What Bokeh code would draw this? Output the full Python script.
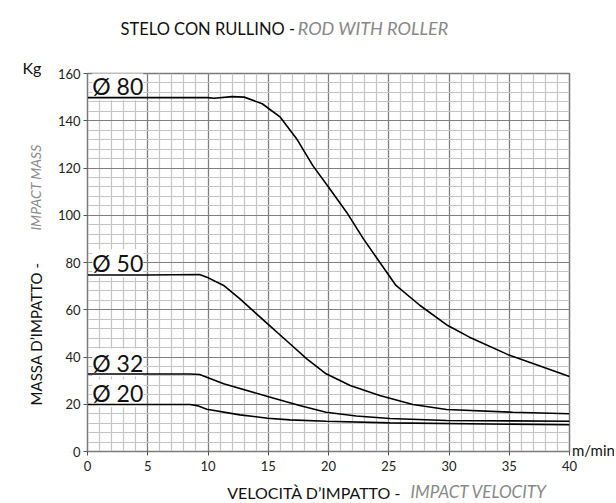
from bokeh.plotting import figure
from bokeh.models import Range1d, SingleIntervalTicker, Label
from bokeh.embed import file_html
from bokeh.resources import INLINE
import math

# ---- data ----
x80 = [0, 5, 10, 10.5, 12, 13, 14.5, 16, 17.35, 18.7, 20.1, 21.5, 22.9, 24.25, 25.6, 27.6, 29.9, 31.7, 34.9, 37.2, 40]
y80 = [149.8, 149.8, 149.8, 149.5, 150.2, 150.0, 147.2, 141.5, 132.4, 121, 111.2, 101.3, 90, 80.1, 70.3, 61.8, 53.3, 48.4, 41, 36.8, 31.7]

x50 = [0, 5, 9.3, 9.9, 11.3, 12.65, 14.95, 16.8, 18.2, 19.8, 21.8, 24.25, 27, 29.8, 35.3, 40]
y50 = [74.7, 74.7, 74.9, 73.8, 70.3, 64.6, 54, 45.6, 39.2, 32.9, 27.9, 23.7, 19.9, 17.8, 16.6, 16]

x32 = [0, 8.5, 9.3, 11.3, 14.95, 17.6, 19.8, 22.3, 25.1, 29.8, 40]
y32 = [32.8, 32.8, 32.6, 28.7, 23.3, 19.5, 16.6, 15, 14, 13.1, 12.8]

x20 = [0, 8.5, 9.2, 9.9, 12.65, 14.95, 16.8, 19.8, 25.1, 40]
y20 = [19.9, 19.9, 19.3, 17.9, 15.5, 14.1, 13.4, 12.8, 12.1, 11.3]

series_x = [x80, x50, x32, x20]
series_y = [y80, y50, y32, y20]
series_names = ["Ø 80", "Ø 50", "Ø 32", "Ø 20"]
label_levels = [150, 75, 33, 20]

FONT = "Lato"

p = figure(width=614, height=501, output_backend="svg", toolbar_location=None,
           x_range=Range1d(0, 40), y_range=Range1d(0, 160),
           min_border_left=87, min_border_right=45, min_border_top=73, min_border_bottom=50)
p.background_fill_color = "white"
p.border_fill_color = "white"
p.outline_line_color = "#7a7a7a"
p.outline_line_width = 1.5

xt = SingleIntervalTicker(interval=5, num_minor_ticks=5)
yt = SingleIntervalTicker(interval=20, num_minor_ticks=5)
p.xaxis.ticker = xt
p.yaxis.ticker = yt
p.xgrid.ticker = xt
p.ygrid.ticker = yt
for g in (p.xgrid, p.ygrid):
    g.grid_line_color = "#7f7f7f"
    g.grid_line_width = 1.2
    g.minor_grid_line_color = "#c4c4c4"
    g.minor_grid_line_width = 1.2

for ax in (p.xaxis, p.yaxis):
    ax.axis_line_color = "#7a7a7a"
    ax.major_tick_line_color = "#555555"
    ax.major_tick_out = 4
    ax.major_tick_in = 0
    ax.minor_tick_out = 0
    ax.minor_tick_in = 0
    ax.major_label_text_font = FONT
    ax.major_label_text_font_size = "13px"
    ax.major_label_text_color = "#222222"
p.xaxis.major_label_standoff = 5
p.yaxis.major_label_standoff = 3

for xs, ys in zip(series_x, series_y):
    p.line(xs, ys, line_color="black", line_width=1.6)

# series labels: drawn above the grid but below the curves
for name, lvl in zip(series_names, label_levels):
    p.add_layout(Label(x=0.4, y=lvl, y_offset=-3, text=name, text_font=FONT,
                       text_font_size="23px", text_color="#111111",
                       text_baseline="bottom", level="underlay",
                       background_fill_color="white", padding=0))

# texts outside the frame: placed in side panels (not clipped), positioned in data units
outside = [
    ("above", dict(x=2.74, y=174.8, text="STELO CON RULLINO -", text_font_size="16.5px", text_color="#111111")),
    ("above", dict(x=17.45, y=174.8, text="ROD WITH ROLLER", text_font_size="18px", text_color="#888888", text_font_style="italic")),
    ("above", dict(x=26.8, y=-21.5, text="IMPACT VELOCITY", text_font_size="17px", text_color="#888888", text_font_style="italic")),
    ("below", dict(x=11.6, y=-21.5, text="VELOCITÀ D’IMPATTO -", text_font_size="16px", text_color="#111111")),
    ("left", dict(x=-4.3, y=19.5, text="MASSA D’IMPATTO -", angle=math.pi / 2, text_font_size="15px", text_color="#111111", text_baseline="middle")),
    ("left", dict(x=-4.3, y=93.5, text="IMPACT MASS", angle=math.pi / 2, text_font_size="14px", text_color="#888888", text_font_style="italic", text_baseline="middle")),
    ("left", dict(x=-5.4, y=158.5, text="Kg", text_font_size="16px", text_color="#111111")),
    ("right", dict(x=40.2, y=-3.1, text="m/min", text_font_size="15px", text_color="#111111")),
]
for side, kw in outside:
    p.add_layout(Label(text_font=FONT, **kw), side)

open("out.html", "w").write(file_html(p, INLINE))
